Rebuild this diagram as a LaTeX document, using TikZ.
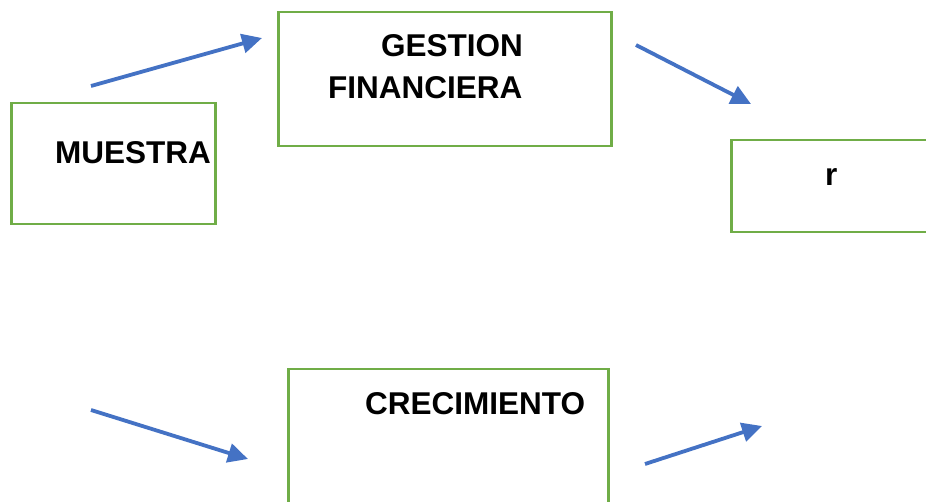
\documentclass[tikz,border=0pt]{standalone}
\usepackage{fontspec}
\setmainfont{Liberation Sans}
\usetikzlibrary{arrows.meta}
\definecolor{boxgreen}{HTML}{70AD47}
\definecolor{arrowblue}{HTML}{4472C4}

\begin{document}
\begin{tikzpicture}[x=1pt,y=-1pt,
    caja/.style={draw=boxgreen, line width=2.5pt, rectangle, anchor=north west, inner sep=0pt},
    etiqueta/.style={anchor=base west, inner sep=0pt, font=\fontsize{31.5}{37}\selectfont\bfseries},
    flecha/.style={draw=arrowblue, line width=3.8pt, -{Triangle[length=20pt,width=19pt]}}]
    \useasboundingbox (0,0) rectangle (926,502);
    \clip (0,0) rectangle (926,502);
    % cajas
    \node[caja, minimum width=204pt, minimum height=121pt] (muestra) at (10,102) {};
    \node[caja, minimum width=333pt, minimum height=134pt] (gestion) at (277,11) {};
    \node[caja, minimum width=230pt, minimum height=92pt] (r) at (730,139) {};
    \node[caja, minimum width=320pt, minimum height=170pt] (crecimiento) at (287,368) {};
    % textos
    \node[etiqueta] (muestraTxt) at (55,164) {MUESTRA};
    \node[etiqueta] (gestionTxt) at (381,57) {GESTION};
    \node[etiqueta] (financieraTxt) at (328,99) {FINANCIERA};
    \node[etiqueta] (rTxt) at (825,186) {r};
    \node[etiqueta] (crecimientoTxt) at (365,414) {CRECIMIENTO};
    % flechas
    \coordinate (a1) at (91,86);
    \coordinate (b1) at (262,38);
    \coordinate (a2) at (636,45);
    \coordinate (b2) at (751,104);
    \coordinate (a3) at (91,410);
    \coordinate (b3) at (248,459);
    \coordinate (a4) at (645,464);
    \coordinate (b4) at (762,426);
    \draw[flecha] (a1) -- (b1);
    \draw[flecha] (a2) -- (b2);
    \draw[flecha] (a3) -- (b3);
    \draw[flecha] (a4) -- (b4);
\end{tikzpicture}
\end{document}
